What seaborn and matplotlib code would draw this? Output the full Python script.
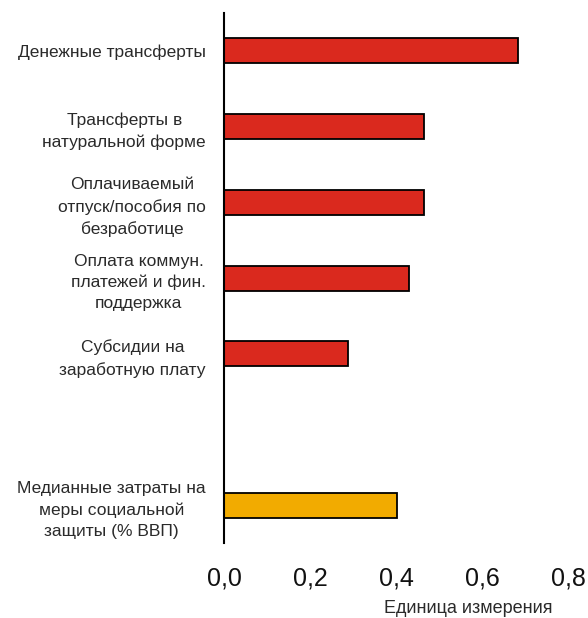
import pandas as pd
import seaborn as sns
import matplotlib.pyplot as plt

# Categories (blank slot keeps the gap before the median bar)
categories = [
    'Денежные трансферты',
    'Трансферты в\nнатуральной форме',
    'Оплачиваемый\nотпуск/пособия по\nбезработице',
    'Оплата коммун.\nплатежей и фин.\nподдержка',
    'Субсидии на\nзаработную плату',
    ' ',
    'Медианные затраты на\nмеры социальной\nзащиты (% ВВП)',
]
values = [0.683, 0.466, 0.466, 0.430, 0.289, None, 0.402]
groups = ['measure', 'measure', 'measure', 'measure', 'measure', 'measure', 'median']
tick_values = [0.0, 0.2, 0.4, 0.6, 0.8]
tick_labels = ['0,0', '0,2', '0,4', '0,6', '0,8']

df = pd.DataFrame({'category': categories, 'value': values, 'group': groups})
df = df.dropna()

sns.set_style('white')
plt.rcParams['font.family'] = ['Liberation Sans', 'DejaVu Sans']

fig = plt.figure(figsize=(5.88, 6.18), dpi=100)
ax = fig.add_axes([0.381, 0.121, 0.585, 0.858])

sns.barplot(
    data=df, x='value', y='category', hue='group', order=categories,
    palette={'measure': '#DA291E', 'median': '#F2AB00'}, saturation=1,
    width=0.33, edgecolor='black', linewidth=1.3, dodge=False,
    legend=False, ax=ax, orient='h'
)

ax.set_xlim(0, 0.8)
ax.set_ylim(6.5, -0.5)
ax.set_xticks(tick_values)
ax.set_xticklabels(tick_labels, fontsize=18, color='#111111')
ax.tick_params(axis='x', length=0, pad=17)
ax.tick_params(axis='y', length=0, pad=13, labelsize=12.5, labelcolor='#2a2a2a')
for lbl in ax.get_yticklabels():
    lbl.set_multialignment('center')
    lbl.set_linespacing(1.5)

for side in ['top', 'right', 'bottom']:
    ax.spines[side].set_visible(False)
ax.spines['left'].set_color('black')
ax.spines['left'].set_linewidth(1.5)

ax.set_ylabel('')
ax.set_xlabel('Единица измерения', fontsize=13, color='#2a2a2a')
ax.xaxis.label.set_ha('right')
ax.xaxis.label.set_va('center')
ax.xaxis.set_label_coords(0.955, -0.124)

fig.savefig('out.png', dpi=100)
